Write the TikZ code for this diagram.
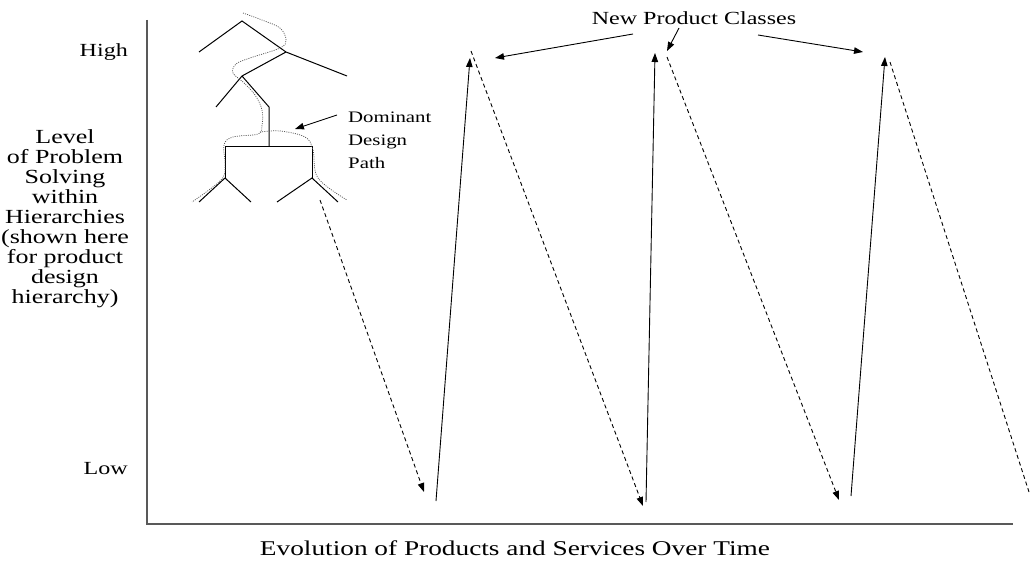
\documentclass[tikz,border=0pt]{standalone}
\usepackage{fontspec}
\setmainfont{Liberation Serif}[FakeStretch=1.3]
\usepackage{tikz}
\usetikzlibrary{arrows.meta, positioning}

\tikzset{
    axisline/.style={line width=1.3pt, black!65},
    upline/.style={line width=0.9pt, -{Triangle[length=9pt,width=6.5pt]}},
    downline/.style={line width=0.9pt, dash pattern=on 4pt off 3pt, -{Triangle[length=9pt,width=6.5pt]}},
    pointer/.style={line width=0.9pt, -{Triangle[length=9pt,width=6.5pt]}},
    branch/.style={line width=1pt},
    domdots/.style={line width=0.7pt, black!70, dash pattern=on 1pt off 1.2pt}
}

\begin{document}
\begin{tikzpicture}[x=1pt, y=-1pt]

\useasboundingbox (0,0) rectangle (1030,564);

% Axes
\draw[axisline] (147,20) -- (147,524) -- (1013,524);

% Axis labels
\node[anchor=base east, inner sep=0pt, font=\fontsize{18.5}{20}\selectfont] (high) at (128,57) {High};
\node[anchor=base east, inner sep=0pt, font=\fontsize{18.5}{20}\selectfont] (low) at (128,474) {Low};
\node[align=center, inner sep=0pt, font=\fontsize{20}{20}\selectfont] (ylabel) at (65,219)
    {Level\\of Problem\\Solving\\within\\Hierarchies\\(shown here\\for product\\design\\hierarchy)};
\node[anchor=base, inner sep=0pt, font=\fontsize{21}{24}\selectfont] (xlabel) at (515,555)
    {Evolution of Products and Services Over Time};

% Design hierarchy tree
\draw[branch] (199,52) -- (242,21) -- (286,52) -- (347,76);
\draw[branch] (286,52) -- (242,76) -- (216,107);
\draw[branch] (242,76) -- (269,107) -- (269,147);
\draw[branch] (225,178) -- (225,147) -- (312,147) -- (312,178);
\draw[branch] (199,202) -- (225,178) -- (251,202);
\draw[branch] (277,202) -- (312,178) -- (338,202);

% Dominant design path
\draw[domdots] plot[smooth, tension=0.6] coordinates {(243,13) (262,20) (280,28) (286,40) (280,48) (250,58)
    (236,64) (233,73) (243,82) (255,95) (262,110) (262,126) (258,134) (233,137) (224,145)
    (225,165) (221,180) (192,202)};
\draw[domdots] plot[smooth, tension=0.6] coordinates {(260,132) (280,131) (305,137) (313,150)
    (318,178) (347,200)};

% Label for dominant design path
\node[anchor=base west, inner sep=0pt, align=left, font=\fontsize{16}{23}\selectfont] (dominant) at (348,169)
    {Dominant\\Design\\Path};
\coordinate (dtail) at (337,115);
\coordinate (dtip) at (295,129);
\draw[pointer] (dtail) -- (dtip);

% Sawtooth: low/high points
\coordinate (t0) at (320,200);
\coordinate (b1) at (424,492);
\coordinate (s1) at (436,501);
\coordinate (p1) at (470,58);
\coordinate (d1) at (471,51);
\coordinate (b2) at (643,506);
\coordinate (s2) at (646,502);
\coordinate (p2) at (655,53);
\coordinate (d2) at (667,57);
\coordinate (b3) at (839,500);
\coordinate (s3) at (851,496);
\coordinate (p3) at (885,57);
\coordinate (d3) at (890,62);
\coordinate (e3) at (1029,492);

% Down (dashed) and up (solid) strokes
\draw[downline] (t0) -- (b1);
\draw[upline] (s1) -- (p1);
\draw[downline] (d1) -- (b2);
\draw[upline] (s2) -- (p2);
\draw[downline] (d2) -- (b3);
\draw[upline] (s3) -- (p3);
\draw[line width=0.9pt, dash pattern=on 4pt off 3pt] (d3) -- (e3);

% Label for new product classes
\node[anchor=base, inner sep=0pt, font=\fontsize{18.5}{20}\selectfont] (classes) at (694,25) {New Product Classes};
\coordinate (c1) at (633,34);
\coordinate (c2) at (679,28);
\coordinate (c3) at (758,35);
\coordinate (a1) at (495,58);
\coordinate (a2) at (667,51);
\coordinate (a3) at (863,52);
\draw[pointer] (c1) -- (a1);
\draw[pointer] (c2) -- (a2);
\draw[pointer] (c3) -- (a3);

\end{tikzpicture}
\end{document}
